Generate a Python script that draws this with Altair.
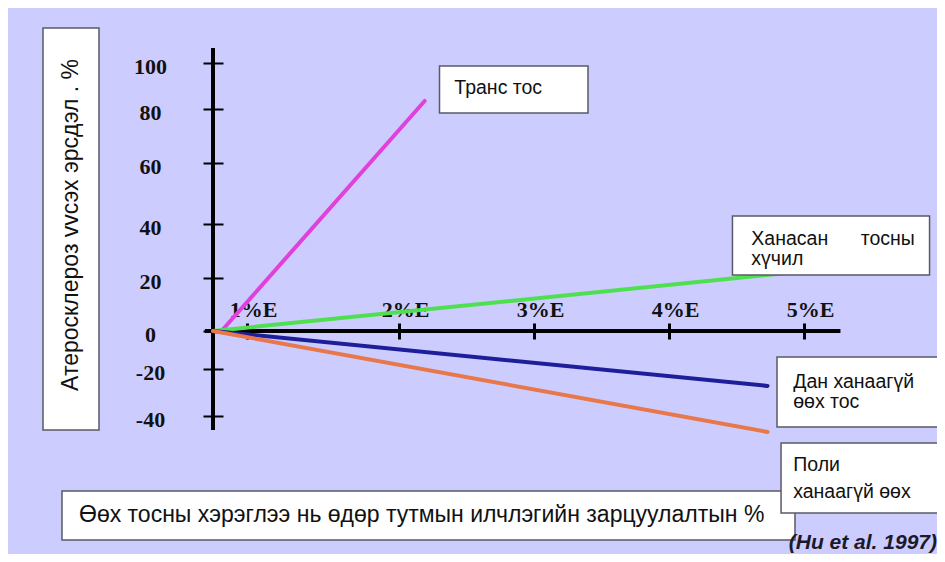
import altair as alt
import pandas as pd

# ---------------- data ----------------
SERIES = ["Транс тос", "Ханасан тосны хүчил", "Дан ханаагүй өөх тос", "Поли ханаагүй өөх"]
START_X = [0.25, 0.0, 0.0, 0.0]
START_Y = [0.0, 0.0, 0.0, 0.0]
END_X = [2.19, 4.90, 4.73, 4.73]
END_Y = [83.5, 22.0, -27.2, -46.8]
COLORS = ["#E040DC", "#4FE04F", "#1E1E9A", "#E8774A"]

X_TICKS = [1, 2, 3, 4, 5]
Y_TICKS = [-40, -20, 0, 20, 40, 60, 80, 100]

# the original slide's axes are hand drawn: piecewise-linear scales
X_DOMAIN = [0, 1, 2, 3, 4, 5]
X_RANGE = [205, 239, 391, 526, 661, 796]
Y_DOMAIN = [-40, -20, 0, 20, 40, 60, 80, 100]
Y_RANGE = [408, 361, 323, 270, 216, 155, 101, 55]

# axis line extents (data units)
XAXIS_FROM, XAXIS_TO = -0.24, 5.27
YAXIS_FROM, YAXIS_TO = -46.0, 106.5

# label boxes (data units)
BOX_X1 = [2.30, 4.47, 4.80, 4.83]
BOX_X2 = [3.40, 5.93, 6.04, 6.03]
BOX_Y1 = [98.7, 42.6, -13.7, -51.5]
BOX_Y2 = [78.5, 21.1, -44.7, -81.3]

LABEL_LINES = ["Транс тос", "Ханасан\u00a0\u00a0\u00a0\u00a0\u00a0\u00a0тосны", "хүчил",
               "Дан ханаагүй", "өөх тос", "Поли", "ханаагүй өөх"]
LABEL_X = [2.41, 4.61, 4.61, 4.92, 4.92, 4.92, 4.92]
LABEL_Y = [89.1, 34.4, 27.0, -25.5, -34.0, -60.9, -72.3]

Y_TITLE = "Атеросклероз vvсэх эрсдэл . %"
X_TITLE = "Өөх тосны хэрэглээ нь өдөр тутмын илчлэгийн зарцуулалтын %"
SOURCE = "(Hu et al. 1997)"

BG = "#CCCCFF"
SANS = "Liberation Sans"
SERIF = "Liberation Serif"

# ---------------- tables ----------------
rows = []
for s, x0, y0, x1, y1 in zip(SERIES, START_X, START_Y, END_X, END_Y):
    rows.append({"series": s, "x": x0, "y": y0, "o": 0})
    rows.append({"series": s, "x": x1, "y": y1, "o": 1})
lines_df = pd.DataFrame(rows)

boxes_df = pd.DataFrame({"x1": BOX_X1, "x2": BOX_X2, "y1": BOX_Y1, "y2": BOX_Y2})
labels_df = pd.DataFrame({"t": LABEL_LINES, "x": LABEL_X, "y": LABEL_Y})
axes_df = pd.DataFrame({"x0": [0.0], "y0": [0.0],
                        "xa": [XAXIS_FROM], "xb": [XAXIS_TO],
                        "ya": [YAXIS_FROM], "yb": [YAXIS_TO]})

xs = alt.Scale(domain=X_DOMAIN, range=X_RANGE, nice=False, zero=False)
ys = alt.Scale(domain=Y_DOMAIN, range=Y_RANGE, nice=False, zero=False)

x_axis = alt.Axis(values=X_TICKS, orient="top", offset=-331, tickSize=16, tickWidth=3,
                  tickColor="black", domain=False, grid=False, labelPadding=2,
                  labelExpr="datum.value + '%E'", labelOffset=6, labelFlush=False,
                  labelOverlap=False, labelFont=SERIF, labelFontWeight="bold",
                  labelFontSize=22, labelColor="#111111", title=None, zindex=0)
y_axis = alt.Axis(values=Y_TICKS, orient="left", offset=-215, tickSize=20, tickWidth=2,
                  tickColor="black", domain=False, grid=False, labelPadding=53,
                  labelExpr="'' + datum.value",
                  labelOffset=3, labelFlush=False, labelOverlap=False, labelFont=SERIF,
                  labelFontWeight="bold", labelFontSize=22, labelColor="#111111",
                  labelAlign="center", title=None, zindex=0)

yaxis_line = alt.Chart(axes_df).mark_rule(color="black", strokeWidth=4).encode(
    x=alt.X("x0:Q", scale=xs, axis=x_axis),
    y=alt.Y("ya:Q", scale=ys, axis=y_axis),
    y2="yb:Q",
)
xaxis_line = alt.Chart(axes_df).mark_rule(color="black", strokeWidth=4).encode(
    x=alt.X("xa:Q", scale=xs, axis=x_axis),
    x2="xb:Q",
    y=alt.Y("y0:Q", scale=ys, axis=y_axis),
)

lines = alt.Chart(lines_df).mark_line(strokeWidth=4, strokeCap="round").encode(
    x=alt.X("x:Q", scale=xs, axis=x_axis),
    y=alt.Y("y:Q", scale=ys, axis=y_axis),
    color=alt.Color("series:N", scale=alt.Scale(domain=SERIES, range=COLORS), legend=None),
    order="o:Q",
)

boxes = alt.Chart(boxes_df).mark_rect(fill="white", stroke="#5a5a66", strokeWidth=1.5).encode(
    x=alt.X("x1:Q", scale=xs, axis=x_axis),
    x2="x2:Q",
    y=alt.Y("y1:Q", scale=ys, axis=y_axis),
    y2="y2:Q",
)
labels = alt.Chart(labels_df).mark_text(align="left", baseline="middle", font=SANS,
                                        fontSize=19.5, color="#111111").encode(
    x=alt.X("x:Q", scale=xs, axis=x_axis),
    y=alt.Y("y:Q", scale=ys, axis=y_axis),
    text="t:N",
)

# title boxes (layout decoration, pixel placed)
ytitle_box = alt.Chart(pd.DataFrame({"t": [Y_TITLE]})).mark_rect(
    fill="white", stroke="#5a5a66", strokeWidth=1.5).encode(
    x=alt.value(35), x2=alt.value(91), y=alt.value(20), y2=alt.value(422))
ytitle = alt.Chart(pd.DataFrame({"t": [Y_TITLE]})).mark_text(
    angle=270, align="center", baseline="middle", font=SANS, fontSize=23,
    color="#111111").encode(x=alt.value(63), y=alt.value(217), text="t:N")

xtitle_box = alt.Chart(pd.DataFrame({"t": [X_TITLE]})).mark_rect(
    fill="white", stroke="#5a5a66", strokeWidth=1.5).encode(
    x=alt.value(54), x2=alt.value(787), y=alt.value(483), y2=alt.value(532))
xtitle = alt.Chart(pd.DataFrame({"t": [X_TITLE]})).mark_text(
    align="left", baseline="middle", font=SANS, fontSize=23,
    color="#111111").encode(x=alt.value(71), y=alt.value(507), text="t:N")

source = alt.Chart(pd.DataFrame({"t": [SOURCE]})).mark_text(
    align="right", baseline="middle", font=SANS, fontSize=21, fontStyle="italic",
    fontWeight="bold", color="#1a1a2a").encode(x=alt.value(929), y=alt.value(535), text="t:N")

chart = alt.layer(
    ytitle_box, ytitle, xtitle_box, xtitle, source,
    yaxis_line, xaxis_line, lines, boxes, labels,
).properties(
    width=929, height=546, background=BG, padding=0,
    autosize=alt.AutoSizeParams(type="none"),
).configure_view(stroke=None)

chart.save("out.html", embed_options={"renderer": "svg", "actions": False})
